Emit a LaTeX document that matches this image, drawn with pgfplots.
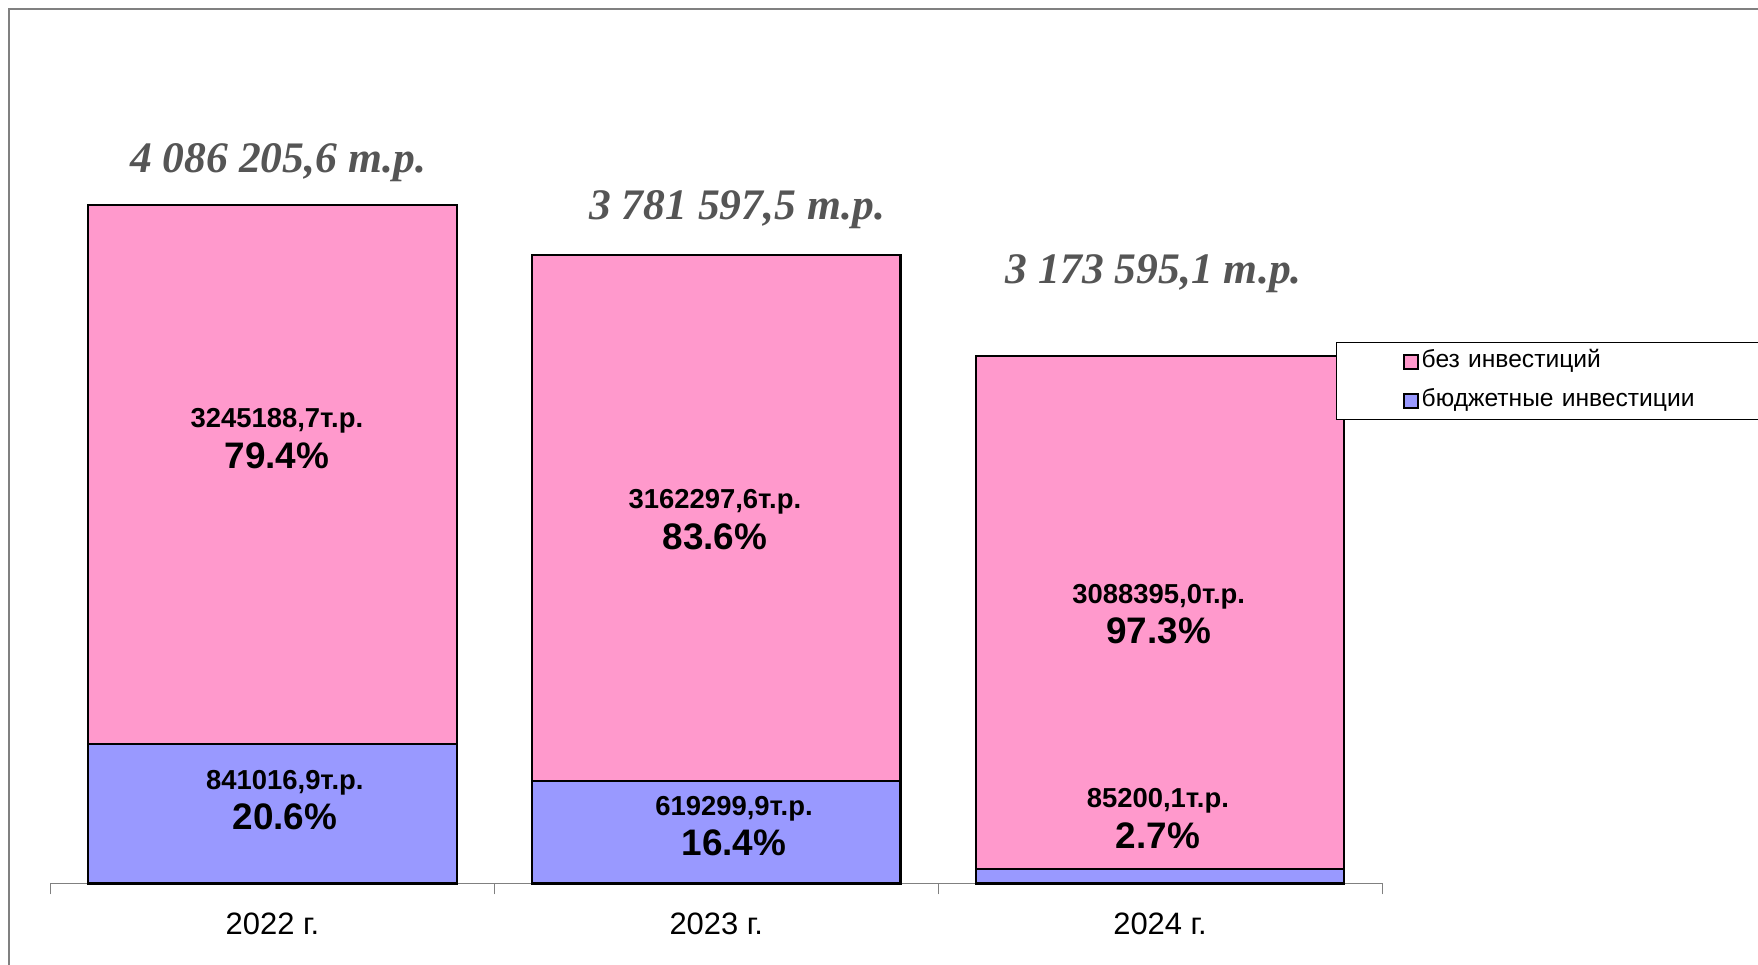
\documentclass[border=0pt]{standalone}
\usepackage{pgfplots}
\pgfplotsset{compat=1.18}
\usepackage{fontspec}
\setmainfont{Liberation Sans}
\newfontfamily\serifit{Liberation Serif}
\definecolor{pinkbar}{HTML}{FF99CC}
\definecolor{bluebar}{HTML}{9999FF}
\definecolor{totgray}{HTML}{555555}
\newcommand\fs[1]{\fontsize{#1}{#1}\selectfont}
\tikzset{lblsmall/.style={font=\bfseries\fs{7.8}}, lblbig/.style={font=\bfseries\fs{10.5}},
  lbltot/.style={font=\serifit\bfseries\itshape\fs{12.4}, text=totgray}}

\begin{document}
\begin{tikzpicture}
\useasboundingbox (0,0) rectangle (175.8mm,96.5mm);
% outer frame, cut by the page on the right and at the bottom
\draw[draw=gray, line width=0.45pt] (0.9mm,-5mm) rectangle (190mm,95.6mm);
\begin{axis}[
  at={(5.05mm,8.15mm)}, anchor=south west,
  scale only axis, width=133.15mm, height=83.075mm,
  ybar stacked, bar width=0.83,
  xmin=-0.5, xmax=2.5, ymin=0, ymax=5000000,
  axis x line=bottom, axis y line=none,
  x axis line style={-, draw=gray},
  xtick={0,1,2}, xticklabels={2022 г., 2023 г., 2024 г.},
  major tick length=0pt,
  minor xtick={-0.5,0.5,1.5,2.5}, minor tick length=1.1mm, tick align=outside,
  minor tick style={draw=gray},
  ytick=\empty,
  xticklabel style={font=\fs{8.8}, anchor=base, yshift=-5.1mm},
  clip=false,
  reverse legend,
  legend cell align=left,
  legend style={at={(0.9654,0.6518)}, anchor=north west, draw=black, line width=0.4pt,
    font=\fs{7.0}, inner xsep=6.65mm, inner ysep=0.45mm, row sep=1mm,
    nodes={inner sep=0.25mm, text height=1.8mm, text depth=0.6mm},
    /tikz/every even column/.append style={text width=40mm}},
  sq/.style={legend image code/.code={\draw[##1, draw=black, line width=0.6pt] (0mm,-0.7mm) rectangle (1.4mm,0.7mm);}},
]
\addplot[fill=bluebar, draw=black, line width=0.6pt, sq] coordinates {(0,841016.9) (1,619299.9) (2,85200.1)};
\addlegendentry{бюджетные инвестиции}
\addplot[fill=pinkbar, draw=black, line width=0.6pt, sq] coordinates {(0,3245188.7) (1,3162297.6) (2,3088395.0)};
\addlegendentry{без инвестиций}

\coordinate (a1) at (axis cs:0.01,2782000);
\coordinate (a2) at (axis cs:0.01,2575000);
\coordinate (a3) at (axis cs:0.028,608000);
\coordinate (a4) at (axis cs:0.028,400000);
\coordinate (b1) at (axis cs:0.997,2300000);
\coordinate (b2) at (axis cs:0.997,2087000);
\coordinate (b3) at (axis cs:1.04,452000);
\coordinate (b4) at (axis cs:1.04,244000);
\coordinate (c1) at (axis cs:1.997,1728000);
\coordinate (c2) at (axis cs:1.997,1522000);
\coordinate (c3) at (axis cs:1.995,495000);
\coordinate (c4) at (axis cs:1.995,286000);
\coordinate (t1) at (axis cs:0.013,4341000);
\coordinate (t2) at (axis cs:1.047,4053000);
\coordinate (t3) at (axis cs:1.986,3670000);
\end{axis}

\node[lblsmall] at (a1) {3245188,7т.р.};
\node[lblbig]   at (a2) {79.4\%};
\node[lblsmall] at (a3) {841016,9т.р.};
\node[lblbig]   at (a4) {20.6\%};
\node[lblsmall] at (b1) {3162297,6т.р.};
\node[lblbig]   at (b2) {83.6\%};
\node[lblsmall] at (b3) {619299,9т.р.};
\node[lblbig]   at (b4) {16.4\%};
\node[lblsmall] at (c1) {3088395,0т.р.};
\node[lblbig]   at (c2) {97.3\%};
\node[lblsmall] at (c3) {85200,1т.р.};
\node[lblbig]   at (c4) {2.7\%};

\node[lbltot] at (t1) {4 086 205,6 т.р.};
\node[lbltot] at (t2) {3 781 597,5 т.р.};
\node[lbltot] at (t3) {3 173 595,1 т.р.};
\end{tikzpicture}
\end{document}
